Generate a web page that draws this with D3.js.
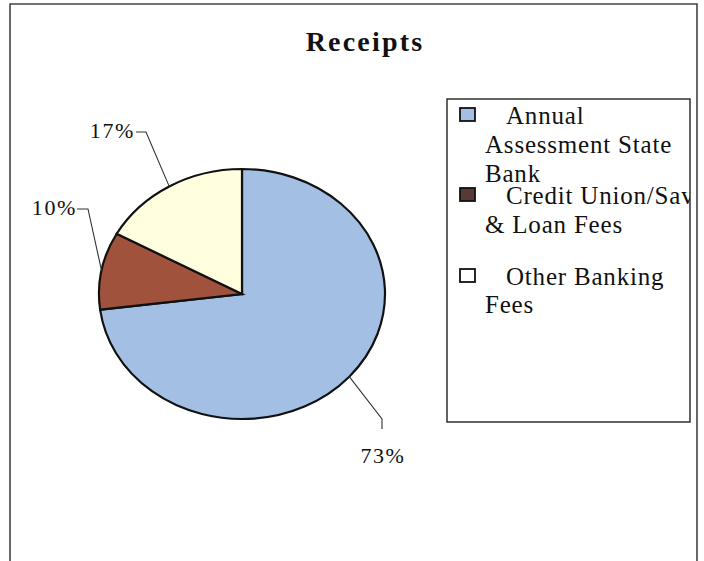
<!DOCTYPE html>
<html>
<head>
<meta charset="utf-8">
<script src="https://cdn.jsdelivr.net/npm/d3@7"></script>
<style>
  html, body { margin: 0; padding: 0; background: #fff; }
  svg { display: block; }
  text { font-family: "Liberation Serif", "Times New Roman", serif; fill: #111; }
</style>
</head>
<body>
<script>
// ---- data ----
const categories = ["Annual Assessment State Bank", "Credit Union/Sav & Loan Fees", "Other Banking Fees"];
const values = [73, 10, 17];
const valueLabels = ["73%", "10%", "17%"];
const legendLines = [
  ["Annual", "Assessment State", "Bank"],
  ["Credit Union/Sav", "& Loan Fees"],
  ["Other Banking", "Fees"]
];
const colors = ["#a3c0e4", "#a0523d", "#ffffe0"];
const swatchColors = ["#a3c0e4", "#5a3834", "#ffffff"];
const title = "Receipts";

// ---- layout ----
const W = 704, H = 561;
const svg = d3.select("body").append("svg").attr("width", W).attr("height", H);

// outer frame (no bottom edge visible)
svg.append("path")
  .attr("d", `M10,${H + 5} L10,4 L697,4 L697,${H + 5}`)
  .attr("fill", "none").attr("stroke", "#444").attr("stroke-width", 1.6);

svg.append("text")
  .attr("x", 365).attr("y", 51)
  .attr("text-anchor", "middle")
  .attr("font-size", 28).attr("font-weight", "bold")
  .attr("letter-spacing", 2.2)
  .text(title);

// pie
const cx = 242, cy = 294, rx = 143, ry = 125;
const pie = d3.pie().sort(null).value(d => d)(values);
const arc = d3.arc().innerRadius(0).outerRadius(rx);

const g = svg.append("g").attr("transform", `translate(${cx},${cy}) scale(1,${ry / rx})`);
g.selectAll("path").data(pie).join("path")
  .attr("d", arc)
  .attr("fill", (d, i) => colors[i])
  .attr("stroke", "#111")
  .attr("stroke-width", 2.2)
  .attr("vector-effect", "non-scaling-stroke");

// leader lines and labels
const labelCfg = [
  { elbow: [382, 419], end: [382, 429], tx: 382, ty: 463, anchor: "middle" },
  { elbow: [88, 209], end: [77, 209], tx: 75, ty: 215, anchor: "end" },
  { elbow: [146, 132], end: [136, 132], tx: 133, ty: 138, anchor: "end" }
];
pie.forEach((d, i) => {
  const a = (d.startAngle + d.endAngle) / 2;
  const ex = cx + rx * Math.sin(a), ey = cy - ry * Math.cos(a);
  const c = labelCfg[i];
  svg.append("polyline")
    .attr("points", [[ex, ey], c.elbow, c.end].map(p => p.join(",")).join(" "))
    .attr("fill", "none").attr("stroke", "#333").attr("stroke-width", 1.1);
  svg.append("text")
    .attr("x", c.tx + (c.anchor === "middle" ? 1 : 2)).attr("y", c.ty)
    .attr("text-anchor", c.anchor)
    .attr("font-size", 22).attr("letter-spacing", 1.6)
    .text(valueLabels[i]);
});

// legend
const lg = svg.append("g");
const lbx = 447, lby = 99, lbw = 243, lbh = 323;
svg.append("defs").append("clipPath").attr("id", "legclip")
  .append("rect").attr("x", lbx).attr("y", lby).attr("width", lbw).attr("height", lbh);
lg.append("rect")
  .attr("x", lbx).attr("y", lby).attr("width", lbw).attr("height", lbh)
  .attr("fill", "#fff").attr("stroke", "#222").attr("stroke-width", 1.4);

const firstBaselines = [124, 204, 285];
const lineStep = [29, 29, 28];
const lt = lg.append("g").attr("clip-path", "url(#legclip)");
categories.forEach((cat, i) => {
  const by = firstBaselines[i];
  lg.append("rect")
    .attr("x", 460).attr("y", by - 16).attr("width", 15).attr("height", 13)
    .attr("fill", swatchColors[i]).attr("stroke", "#111").attr("stroke-width", 1.8);
  legendLines[i].forEach((line, j) => {
    lt.append("text")
      .attr("x", j === 0 ? 506 : 485)
      .attr("y", by + j * lineStep[i])
      .attr("font-size", 25).attr("letter-spacing", 0.8)
      .text(line);
  });
});
</script>
</body>
</html>
